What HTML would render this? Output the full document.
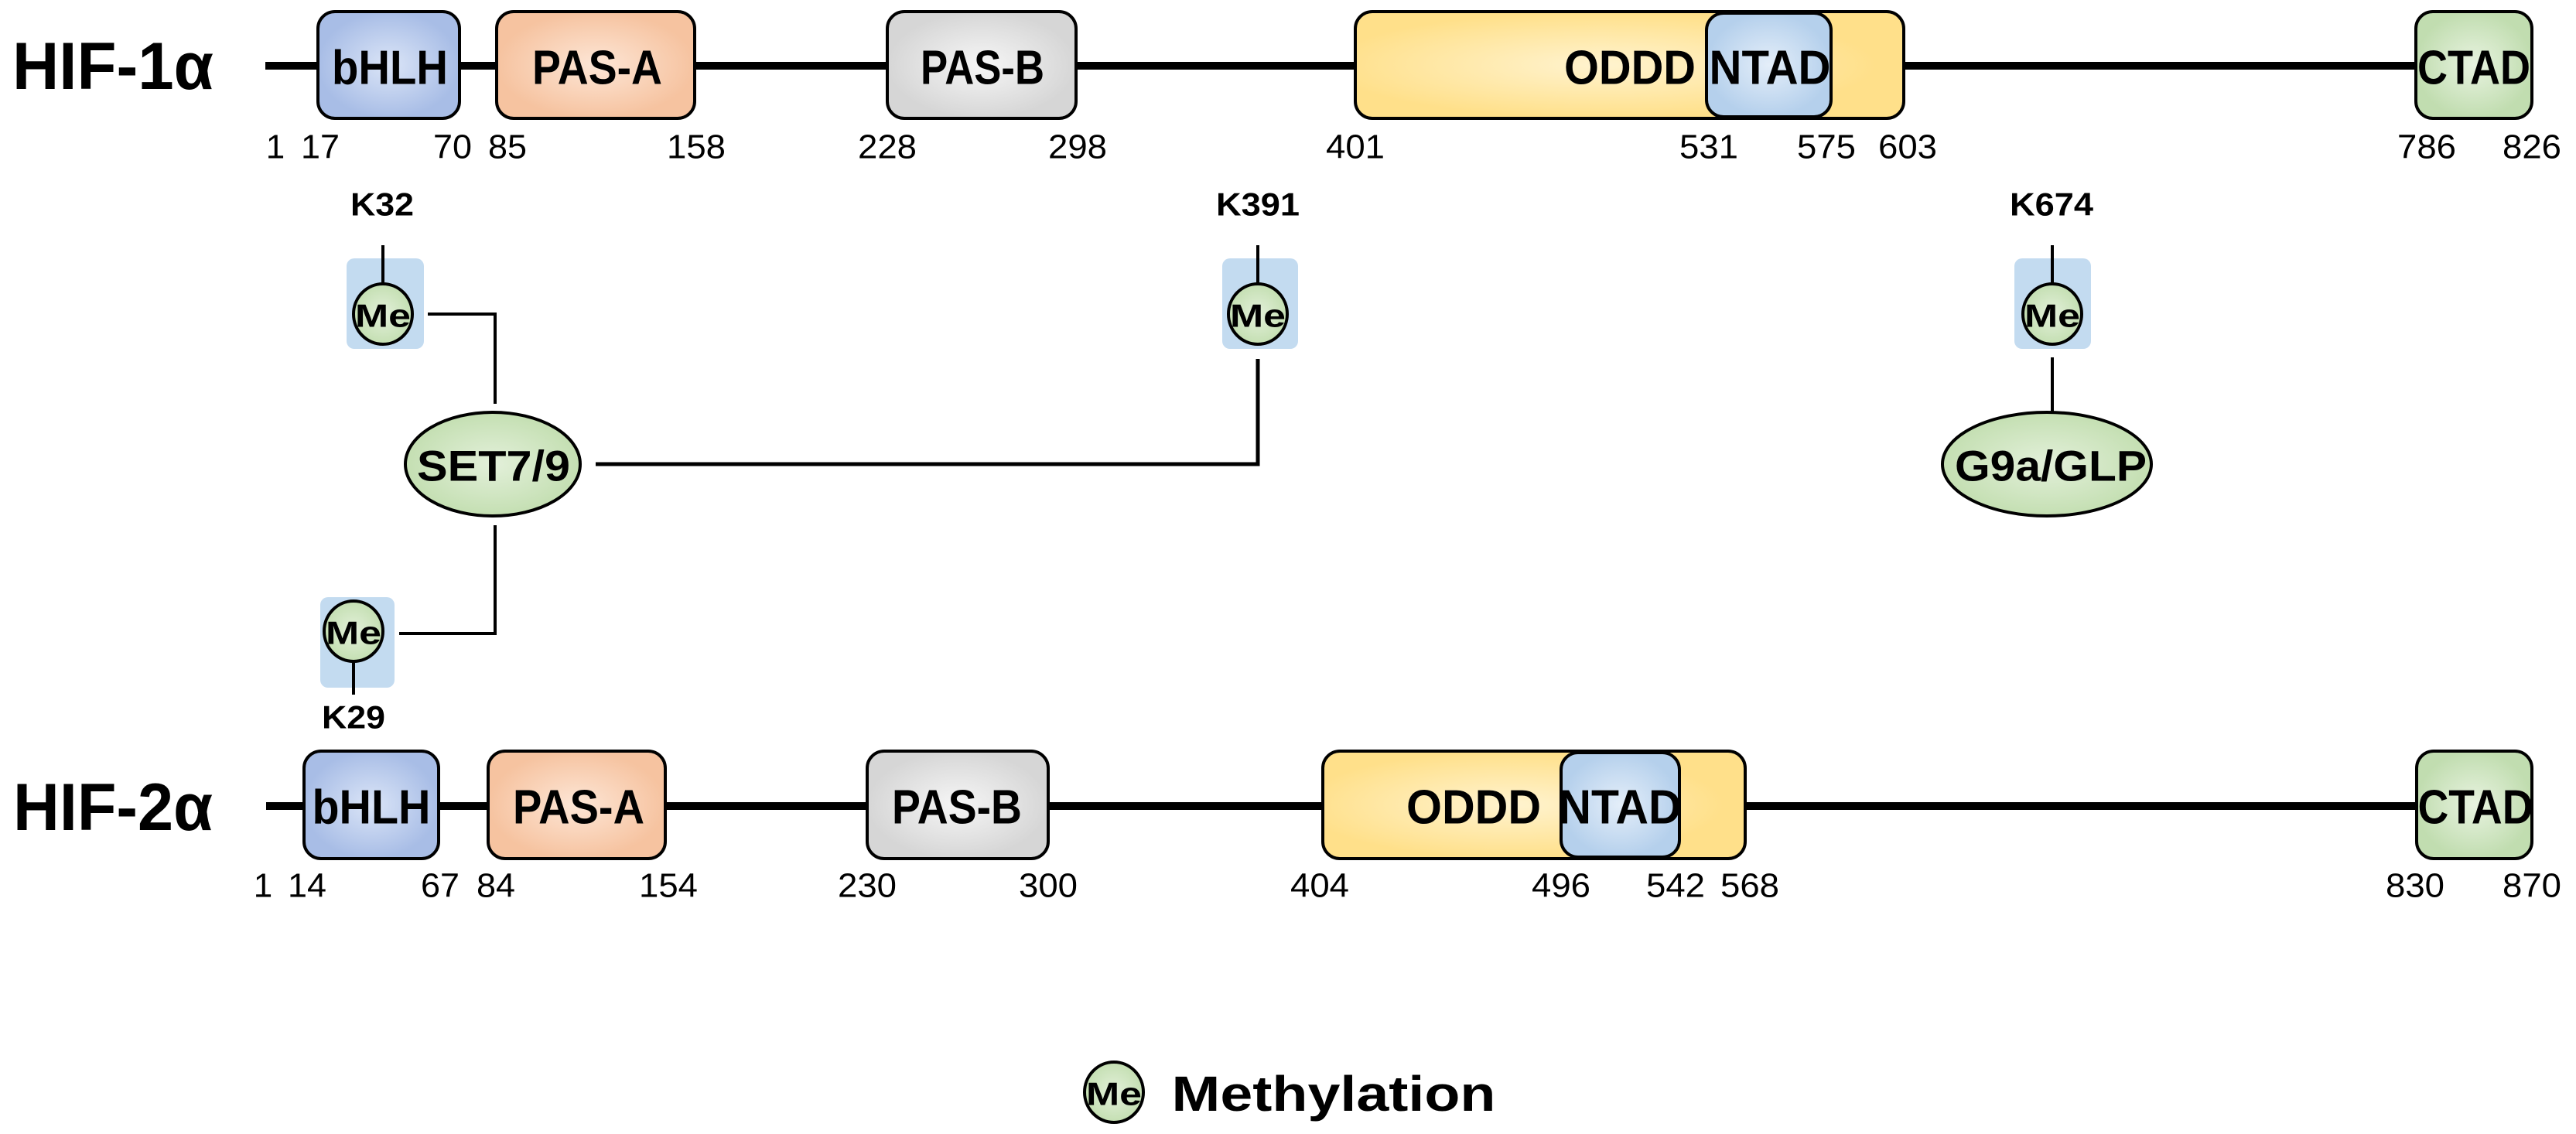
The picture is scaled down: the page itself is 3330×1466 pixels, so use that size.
<!DOCTYPE html>
<html><head><meta charset="utf-8"><style>html,body{margin:0;padding:0;background:#fff}svg{display:block}</style></head><body>
<svg width="3330" height="1466" viewBox="0 0 3330 1466" xmlns="http://www.w3.org/2000/svg" font-family="Liberation Sans, sans-serif">
<defs>
<radialGradient id="gB"><stop offset="0" stop-color="#dbe5f7"/><stop offset="1" stop-color="#a8bde6"/></radialGradient>
<radialGradient id="gA"><stop offset="0" stop-color="#fde6d6"/><stop offset="1" stop-color="#f6c3a0"/></radialGradient>
<radialGradient id="gP"><stop offset="0" stop-color="#f6f6f6"/><stop offset="1" stop-color="#d6d6d6"/></radialGradient>
<radialGradient id="gO" cx="0.45"><stop offset="0" stop-color="#fff3cf"/><stop offset="1" stop-color="#ffe08a"/></radialGradient>
<radialGradient id="gN"><stop offset="0" stop-color="#e4eef9"/><stop offset="1" stop-color="#b5d0ec"/></radialGradient>
<radialGradient id="gC"><stop offset="0" stop-color="#e8f3e0"/><stop offset="1" stop-color="#c1ddb0"/></radialGradient>
<radialGradient id="gM"><stop offset="0" stop-color="#e3f0da"/><stop offset="1" stop-color="#c4dfb2"/></radialGradient>
</defs>
<g stroke="#000" stroke-width="4">
<line x1="343" y1="85" x2="3125" y2="85" stroke-width="10"/>
<rect x="411" y="15" width="183" height="138" rx="22" fill="url(#gB)"/>
<rect x="642" y="15" width="256" height="138" rx="22" fill="url(#gA)"/>
<rect x="1147" y="15" width="244" height="138" rx="22" fill="url(#gP)"/>
<rect x="1752" y="15" width="709" height="138" rx="22" fill="url(#gO)"/>
<rect x="2206" y="17" width="161" height="134" rx="22" fill="url(#gN)"/>
<rect x="3123" y="15" width="150" height="138" rx="22" fill="url(#gC)"/>
<line x1="344" y1="1042" x2="3125" y2="1042" stroke-width="10"/>
<rect x="393" y="971" width="174" height="139" rx="22" fill="url(#gB)"/>
<rect x="631" y="971" width="229" height="139" rx="22" fill="url(#gA)"/>
<rect x="1121" y="971" width="234" height="139" rx="22" fill="url(#gP)"/>
<rect x="1710" y="971" width="546" height="139" rx="22" fill="url(#gO)"/>
<rect x="2018" y="973" width="153" height="135" rx="22" fill="url(#gN)"/>
<rect x="3124" y="971" width="149" height="139" rx="22" fill="url(#gC)"/>
</g>
<g fill="#bdd7ee" opacity="0.9">
<rect x="448" y="334" width="100" height="117" rx="10"/>
<rect x="1580" y="334" width="98" height="117" rx="10"/>
<rect x="2604" y="334" width="99" height="117" rx="10"/>
<rect x="414" y="772" width="96" height="117" rx="10"/>
</g>
<g stroke="#000" stroke-width="4" fill="none">
<line x1="495" y1="317" x2="495" y2="367"/>
<line x1="1626" y1="317" x2="1626" y2="367"/>
<line x1="2653" y1="317" x2="2653" y2="367"/>
<line x1="457" y1="855" x2="457" y2="898"/>
<polyline points="553,406 640,406 640,522"/>
<polyline points="770,600 1626,600 1626,464" stroke-width="5"/>
<polyline points="640,679 640,819 516,819"/>
<line x1="2653" y1="462" x2="2653" y2="533"/>
</g>
<g stroke="#000" stroke-width="4" fill="url(#gM)">
<ellipse cx="495" cy="406" rx="38" ry="39"/>
<ellipse cx="1626" cy="406" rx="38" ry="39"/>
<ellipse cx="2653" cy="406" rx="38" ry="39"/>
<ellipse cx="457" cy="816" rx="38" ry="39"/>
<ellipse cx="637" cy="600" rx="113" ry="67"/>
<ellipse cx="2646" cy="600" rx="135" ry="67"/>
<ellipse cx="1440" cy="1412" rx="38" ry="39"/>
</g>
<g font-weight="bold" text-anchor="middle" dominant-baseline="central">
<text x="146" y="86" font-size="86" textLength="260" lengthAdjust="spacingAndGlyphs">HIF-1α</text>
<text x="146" y="1044" font-size="86" textLength="258" lengthAdjust="spacingAndGlyphs">HIF-2α</text>
<text x="504" y="88" font-size="62" textLength="150" lengthAdjust="spacingAndGlyphs">bHLH</text>
<text x="772" y="88" font-size="62" textLength="168" lengthAdjust="spacingAndGlyphs">PAS-A</text>
<text x="1270" y="88" font-size="62" textLength="160" lengthAdjust="spacingAndGlyphs">PAS-B</text>
<text x="2107" y="88" font-size="62" textLength="170" lengthAdjust="spacingAndGlyphs">ODDD</text>
<text x="2288" y="88" font-size="62" textLength="157" lengthAdjust="spacingAndGlyphs">NTAD</text>
<text x="3198" y="88" font-size="62" textLength="146" lengthAdjust="spacingAndGlyphs">CTAD</text>
<text x="480" y="1044" font-size="62" textLength="153" lengthAdjust="spacingAndGlyphs">bHLH</text>
<text x="748" y="1044" font-size="62" textLength="170" lengthAdjust="spacingAndGlyphs">PAS-A</text>
<text x="1237" y="1044" font-size="62" textLength="168" lengthAdjust="spacingAndGlyphs">PAS-B</text>
<text x="1905" y="1044" font-size="62" textLength="174" lengthAdjust="spacingAndGlyphs">ODDD</text>
<text x="2094" y="1044" font-size="62" textLength="159" lengthAdjust="spacingAndGlyphs">NTAD</text>
<text x="3200" y="1044" font-size="62" textLength="149" lengthAdjust="spacingAndGlyphs">CTAD</text>
<text x="638" y="602" font-size="56" textLength="198" lengthAdjust="spacingAndGlyphs">SET7/9</text>
<text x="2651" y="602" font-size="56" textLength="248" lengthAdjust="spacingAndGlyphs">G9a/GLP</text>
<text x="494" y="264" font-size="42" textLength="82" lengthAdjust="spacingAndGlyphs">K32</text>
<text x="1626" y="264" font-size="42" textLength="108" lengthAdjust="spacingAndGlyphs">K391</text>
<text x="2652" y="264" font-size="42" textLength="108" lengthAdjust="spacingAndGlyphs">K674</text>
<text x="457" y="927" font-size="42" textLength="82" lengthAdjust="spacingAndGlyphs">K29</text>
<text x="495" y="408" font-size="42" textLength="72" lengthAdjust="spacingAndGlyphs">Me</text>
<text x="1626" y="408" font-size="42" textLength="72" lengthAdjust="spacingAndGlyphs">Me</text>
<text x="2653" y="408" font-size="42" textLength="72" lengthAdjust="spacingAndGlyphs">Me</text>
<text x="457" y="818" font-size="42" textLength="72" lengthAdjust="spacingAndGlyphs">Me</text>
<text x="1440" y="1414" font-size="42" textLength="72" lengthAdjust="spacingAndGlyphs">Me</text>
<text x="1724" y="1414" font-size="64" textLength="419" lengthAdjust="spacingAndGlyphs">Methylation</text>
</g>
<g font-size="44" text-anchor="middle" dominant-baseline="central">
<text x="356" y="190">1</text>
<text x="414" y="190" textLength="50" lengthAdjust="spacingAndGlyphs">17</text>
<text x="585" y="190" textLength="50" lengthAdjust="spacingAndGlyphs">70</text>
<text x="656" y="190" textLength="50" lengthAdjust="spacingAndGlyphs">85</text>
<text x="900" y="190" textLength="76" lengthAdjust="spacingAndGlyphs">158</text>
<text x="1147" y="190" textLength="76" lengthAdjust="spacingAndGlyphs">228</text>
<text x="1393" y="190" textLength="76" lengthAdjust="spacingAndGlyphs">298</text>
<text x="1752" y="190" textLength="76" lengthAdjust="spacingAndGlyphs">401</text>
<text x="2209" y="190" textLength="76" lengthAdjust="spacingAndGlyphs">531</text>
<text x="2361" y="190" textLength="76" lengthAdjust="spacingAndGlyphs">575</text>
<text x="2466" y="190" textLength="76" lengthAdjust="spacingAndGlyphs">603</text>
<text x="3137" y="190" textLength="76" lengthAdjust="spacingAndGlyphs">786</text>
<text x="3273" y="190" textLength="76" lengthAdjust="spacingAndGlyphs">826</text>
<text x="340" y="1145">1</text>
<text x="397" y="1145" textLength="50" lengthAdjust="spacingAndGlyphs">14</text>
<text x="569" y="1145" textLength="50" lengthAdjust="spacingAndGlyphs">67</text>
<text x="641" y="1145" textLength="50" lengthAdjust="spacingAndGlyphs">84</text>
<text x="864" y="1145" textLength="76" lengthAdjust="spacingAndGlyphs">154</text>
<text x="1121" y="1145" textLength="76" lengthAdjust="spacingAndGlyphs">230</text>
<text x="1355" y="1145" textLength="76" lengthAdjust="spacingAndGlyphs">300</text>
<text x="1706" y="1145" textLength="76" lengthAdjust="spacingAndGlyphs">404</text>
<text x="2018" y="1145" textLength="76" lengthAdjust="spacingAndGlyphs">496</text>
<text x="2166" y="1145" textLength="76" lengthAdjust="spacingAndGlyphs">542</text>
<text x="2262" y="1145" textLength="76" lengthAdjust="spacingAndGlyphs">568</text>
<text x="3122" y="1145" textLength="76" lengthAdjust="spacingAndGlyphs">830</text>
<text x="3273" y="1145" textLength="76" lengthAdjust="spacingAndGlyphs">870</text>
</g>
</svg>
</body></html>
